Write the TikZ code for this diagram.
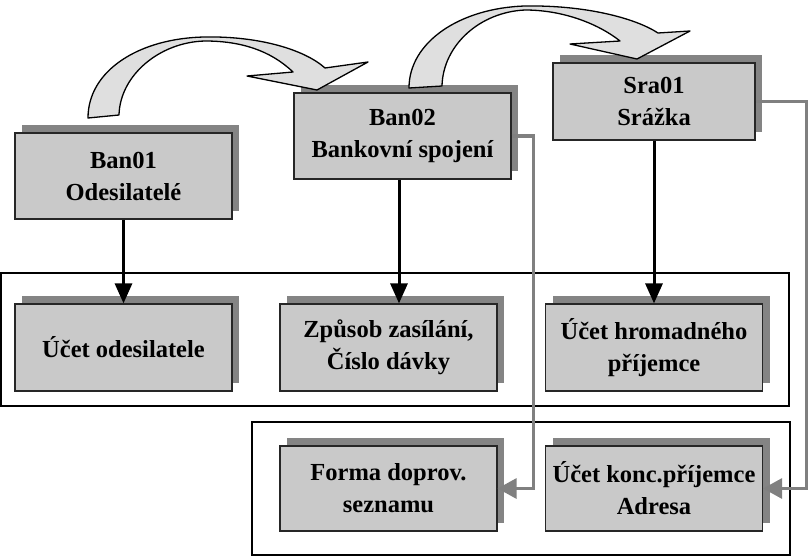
\documentclass[tikz,border=0pt]{standalone}
\usepackage{fontspec}
\setmainfont{Liberation Serif}
\usetikzlibrary{arrows.meta,shadows}
\definecolor{boxgray}{HTML}{C9C9C9}
\definecolor{shadegray}{HTML}{848484}
\definecolor{linegray}{HTML}{808080}
\definecolor{bendgray}{HTML}{DFDFDF}

\begin{document}
\begin{tikzpicture}[x=1pt, y=-1pt,
    tablebox/.style={draw=black!85, line width=1.2pt, fill=boxgray, inner sep=0pt,
      minimum width=217pt, minimum height=86pt, align=center,
      font=\bfseries\fontsize{24.5}{32}\selectfont,
      drop shadow={shadow xshift=7pt, shadow yshift=8pt, fill=shadegray, opacity=1}},
    frame/.style={draw=black, line width=1.8pt},
    downarrow/.style={black, line width=3pt, -{Triangle[length=20pt,width=17pt]}},
    sidearrow/.style={linegray, line width=3.2pt, -{Triangle[length=19pt,width=20pt]}},
    bendarrow/.style={fill=bendgray, draw=black, line width=1.3pt, line join=round}]
    \useasboundingbox (0,0) rectangle (809,557);
    \draw [frame] (1,273) rectangle (789,406);
    \draw [frame] (252,422) rectangle (790,555);
    \node [tablebox] (ban01) at (123.5,176) {Ban01\\Odesilatelé};
    \node [tablebox] (ban02) at (402.5,136) {Ban02\\Bankovní spojení};
    \node [tablebox, minimum width=202pt, minimum height=77pt] (sra01) at (654,101.5) {Sra01\\Srážka};
    \node [tablebox, minimum height=87pt] (ucetodes) at (123.5,347.5) {Účet odesilatele};
    \node [tablebox, minimum height=87pt] (zpusob) at (388.5,347.5) {Způsob zasílání,\\Číslo dávky};
    \node [tablebox, minimum height=87pt] (ucethrom) at (654,347.5) {Účet hromadného\\příjemce};
    \node [tablebox, minimum height=85pt] (forma) at (388.5,488.5) {Forma doprov.\\seznamu};
    \node [tablebox, minimum height=85pt] (ucetkonc) at (654,488.5) {Účet konc.příjemce\\Adresa};
    \draw [downarrow] (ban01) -- (ucetodes);
    \draw [downarrow] ([xshift=-3.5pt]ban02.south) -- ([xshift=-3.5pt]ban02.south |- zpusob.north);
    \draw [downarrow] (sra01) -- (ucethrom);
    \draw [sidearrow] (ban02.east) -- ++(22,0) |- (forma.east);
    \draw [sidearrow] (sra01.east) -- ++(51,0) |- (ucetkonc.east);
    % curved block arrows
    \draw [bendarrow] (88,118) .. controls (88,70) and (140,38) .. (205,37)
      .. controls (260,36) and (305,50) .. (325,68) -- (368,62) -- (317,90) -- (247,76) -- (293,72)
      .. controls (270,50) and (240,41) .. (205,41)
      .. controls (160,42) and (120,75) .. (119,115) -- cycle;
    \draw [bendarrow] (409,88) .. controls (409,42) and (460,8) .. (525,6)
      .. controls (585,5) and (635,18) .. (658,33) -- (690,31) -- (637,59) -- (570,44) -- (620,41)
      .. controls (600,25) and (565,10) .. (525,10)
      .. controls (480,12) and (443,45) .. (442,86) -- cycle;
  \end{tikzpicture}
\end{document}
